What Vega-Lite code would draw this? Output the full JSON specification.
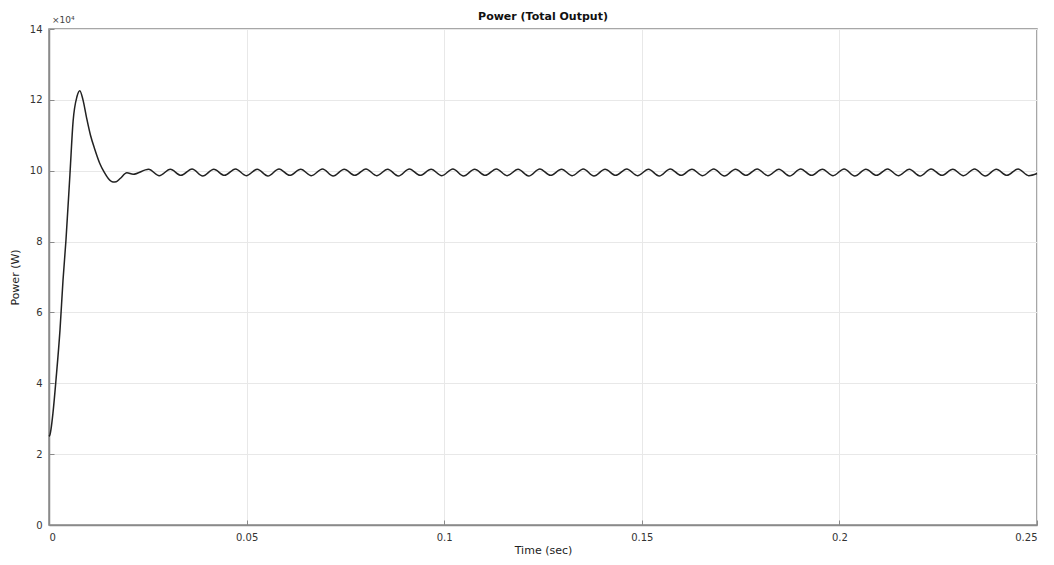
{
  "$schema": "https://vega.github.io/schema/vega-lite/v6.json",
  "width": 988,
  "height": 496,
  "autosize": "none",
  "padding": {"left": 49, "top": 29, "right": 17, "bottom": 40},
  "background": "white",
  "title": {"text": "Power (Total Output)", "font": "DejaVu Sans", "fontSize": 11, "fontWeight": "bold", "color": "#111", "offset": 7, "dy": 13, "anchor": "middle"},
  "config": {
    "view": {"stroke": "#8a8a8a", "strokeWidth": 1.5},
    "axis": {
      "labelFont": "DejaVu Sans", "labelFontSize": 10, "labelColor": "#333",
      "titleFont": "DejaVu Sans", "titleFontSize": 11, "titleFontWeight": "normal", "titleColor": "#222",
      "domainColor": "#8a8a8a", "domainWidth": 1.5,
      "tickColor": "#8a8a8a", "tickSize": -5,
      "gridColor": "#e8e8e8", "gridWidth": 1
    }
  },
  "datasets": {
    "series": [
      {"t": 0, "p": 2.5},
      {"t": 0.00025, "p": 2.55},
      {"t": 0.0005, "p": 2.7},
      {"t": 0.001, "p": 3.16},
      {"t": 0.00177, "p": 4.1},
      {"t": 0.00278, "p": 5.5},
      {"t": 0.00354, "p": 6.9},
      {"t": 0.0043, "p": 8.05},
      {"t": 0.0053, "p": 9.9},
      {"t": 0.0061, "p": 11.4},
      {"t": 0.0071, "p": 12.1},
      {"t": 0.0078, "p": 12.26},
      {"t": 0.0086, "p": 12.0},
      {"t": 0.0095, "p": 11.5},
      {"t": 0.0105, "p": 11.0},
      {"t": 0.0116, "p": 10.6},
      {"t": 0.0128, "p": 10.22},
      {"t": 0.014, "p": 9.95},
      {"t": 0.015, "p": 9.78},
      {"t": 0.0162, "p": 9.68},
      {"t": 0.017, "p": 9.69},
      {"t": 0.018, "p": 9.78},
      {"t": 0.0197, "p": 9.94},
      {"t": 0.0213, "p": 9.9},
      {"t": 0.0252, "p": 10.04},
      {"t": 0.0279, "p": 9.86},
      {"t": 0.0307, "p": 10.04},
      {"t": 0.0334, "p": 9.87},
      {"t": 0.0362, "p": 10.05},
      {"t": 0.0389, "p": 9.85},
      {"t": 0.0417, "p": 10.04},
      {"t": 0.0444, "p": 9.87},
      {"t": 0.0472, "p": 10.05},
      {"t": 0.0499, "p": 9.86},
      {"t": 0.0527, "p": 10.04},
      {"t": 0.0554, "p": 9.85},
      {"t": 0.0582, "p": 10.05},
      {"t": 0.0609, "p": 9.87},
      {"t": 0.0637, "p": 10.04},
      {"t": 0.0664, "p": 9.86},
      {"t": 0.0692, "p": 10.05},
      {"t": 0.0719, "p": 9.85},
      {"t": 0.0747, "p": 10.04},
      {"t": 0.0774, "p": 9.87},
      {"t": 0.0802, "p": 10.05},
      {"t": 0.0829, "p": 9.86},
      {"t": 0.0857, "p": 10.04},
      {"t": 0.0884, "p": 9.85},
      {"t": 0.0912, "p": 10.05},
      {"t": 0.0939, "p": 9.87},
      {"t": 0.0967, "p": 10.04},
      {"t": 0.0994, "p": 9.86},
      {"t": 0.1022, "p": 10.05},
      {"t": 0.1049, "p": 9.85},
      {"t": 0.1077, "p": 10.04},
      {"t": 0.1104, "p": 9.87},
      {"t": 0.1132, "p": 10.05},
      {"t": 0.1159, "p": 9.86},
      {"t": 0.1187, "p": 10.04},
      {"t": 0.1214, "p": 9.85},
      {"t": 0.1242, "p": 10.05},
      {"t": 0.1269, "p": 9.87},
      {"t": 0.1297, "p": 10.04},
      {"t": 0.1324, "p": 9.86},
      {"t": 0.1352, "p": 10.05},
      {"t": 0.1379, "p": 9.85},
      {"t": 0.1407, "p": 10.04},
      {"t": 0.1434, "p": 9.87},
      {"t": 0.1462, "p": 10.05},
      {"t": 0.1489, "p": 9.86},
      {"t": 0.1517, "p": 10.04},
      {"t": 0.1544, "p": 9.85},
      {"t": 0.1572, "p": 10.05},
      {"t": 0.1599, "p": 9.87},
      {"t": 0.1627, "p": 10.04},
      {"t": 0.1654, "p": 9.86},
      {"t": 0.1682, "p": 10.05},
      {"t": 0.1709, "p": 9.85},
      {"t": 0.1737, "p": 10.04},
      {"t": 0.1764, "p": 9.87},
      {"t": 0.1792, "p": 10.05},
      {"t": 0.1819, "p": 9.86},
      {"t": 0.1847, "p": 10.04},
      {"t": 0.1874, "p": 9.85},
      {"t": 0.1902, "p": 10.05},
      {"t": 0.1929, "p": 9.87},
      {"t": 0.1957, "p": 10.04},
      {"t": 0.1984, "p": 9.86},
      {"t": 0.2012, "p": 10.05},
      {"t": 0.2039, "p": 9.85},
      {"t": 0.2067, "p": 10.04},
      {"t": 0.2094, "p": 9.87},
      {"t": 0.2122, "p": 10.05},
      {"t": 0.2149, "p": 9.86},
      {"t": 0.2177, "p": 10.04},
      {"t": 0.2204, "p": 9.85},
      {"t": 0.2232, "p": 10.05},
      {"t": 0.2259, "p": 9.87},
      {"t": 0.2287, "p": 10.04},
      {"t": 0.2314, "p": 9.86},
      {"t": 0.2342, "p": 10.05},
      {"t": 0.2369, "p": 9.85},
      {"t": 0.2397, "p": 10.04},
      {"t": 0.2424, "p": 9.87},
      {"t": 0.2452, "p": 10.05},
      {"t": 0.2479, "p": 9.86},
      {"t": 0.25, "p": 9.92}
    ],
    "note": [{"t": 0, "p": 14, "label": "×10⁴"}]
  },
  "layer": [
    {
      "data": {"name": "series"},
      "mark": {"type": "line", "color": "#222222", "strokeWidth": 1.5, "interpolate": "monotone"},
      "encoding": {
        "x": {"field": "t", "type": "quantitative", "title": "Time (sec)",
              "scale": {"domain": [0, 0.25], "nice": false, "zero": false},
              "axis": {"values": [0, 0.05, 0.1, 0.15, 0.2, 0.25], "format": "~g", "labelPadding": 12, "titlePadding": 2, "grid": true}},
        "y": {"field": "p", "type": "quantitative", "title": "Power (W)",
              "scale": {"domain": [0, 14], "nice": false},
              "axis": {"values": [0, 2, 4, 6, 8, 10, 12, 14], "labelPadding": 12, "titlePadding": 9, "grid": true}}
      }
    },
    {
      "data": {"name": "note"},
      "mark": {"type": "text", "align": "left", "baseline": "bottom", "dx": 3, "dy": -4, "font": "DejaVu Sans", "fontSize": 9, "color": "#444"},
      "encoding": {
        "x": {"field": "t", "type": "quantitative"},
        "y": {"field": "p", "type": "quantitative"},
        "text": {"field": "label"}
      }
    }
  ]
}
